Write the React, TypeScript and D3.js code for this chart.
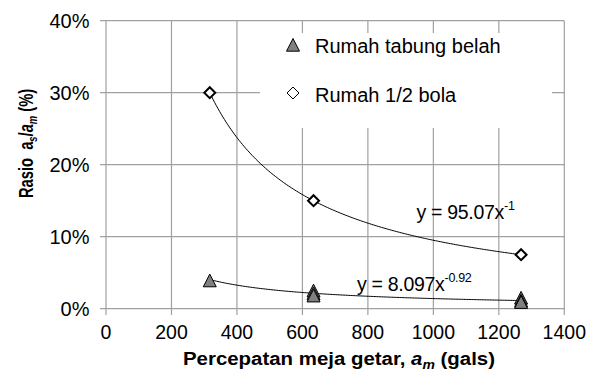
import * as d3 from "d3";

const xTicks = [0, 200, 400, 600, 800, 1000, 1200, 1400];
const yTicks = [0, 0.1, 0.2, 0.3, 0.4];

// Rumah tabung belah (triangles)
const tabungX = [317, 634, 634, 634, 1268, 1268, 1268];
const tabungY = [0.039, 0.025, 0.021, 0.018, 0.015, 0.011, 0.009];

// Rumah 1/2 bola (diamonds)
const bolaX = [317, 634, 1268];
const bolaY = [0.3, 0.15, 0.075];

// power trendlines y = a x^b
const tabungFit = { a: 8.097, b: -0.92, label: "y = 8.097x", exp: "-0.92" };
const bolaFit = { a: 95.07, b: -1, label: "y = 95.07x", exp: "-1" };

const W = 601;
const H = 378;
const font = "'Liberation Sans', Arial, sans-serif";

export default function App() {
  const x = d3.scaleLinear().domain([0, 1400]).range([106, 564.3]);
  const y = d3.scaleLinear().domain([0, 0.4]).range([308.7, 20.7]);

  const fitPath = (a: number, b: number) => {
    const xs = d3.range(317, 1268.01, 5);
    return (
      d3
        .line<number>()
        .x((d) => x(d))
        .y((d) => y(a * Math.pow(d, b)))(xs) ?? ""
    );
  };

  const tri = (cx: number, cy: number, s = 6.5) =>
    `M${cx},${cy - s}L${cx + s},${cy + s * 0.95}L${cx - s},${cy + s * 0.95}Z`;
  const dia = (cx: number, cy: number, s = 6) =>
    `M${cx},${cy - s}L${cx + s},${cy}L${cx},${cy + s}L${cx - s},${cy}Z`;

  const grid = "#a0a0a0";

  return (
    <svg
      width={W}
      height={H}
      style={{ position: "absolute", left: 0, top: 0, background: "#fff" }}
      fontFamily={font}
    >
      {/* grid */}
      {yTicks.map((t) => (
        <line key={"gy" + t} x1={100} x2={564.3} y1={y(t)} y2={y(t)} stroke={grid} strokeWidth={1.2} />
      ))}
      {xTicks.map((t) => (
        <line key={"gx" + t} x1={x(t)} x2={x(t)} y1={20.7} y2={315} stroke={grid} strokeWidth={1.2} />
      ))}

      {/* legend box */}
      <rect x={260} y={33} width={292} height={95} fill="#fff" />
      <path d={tri(293, 45)} fill="#808080" stroke="#000" strokeWidth={1} />
      <text x={315} y={53} fontSize={20} fill="#000">Rumah tabung belah</text>
      <path d={dia(293, 93)} fill="#fff" stroke="#000" strokeWidth={1} />
      <text x={315} y={101.5} fontSize={20} fill="#000">Rumah 1/2 bola</text>

      {/* trendlines */}
      <path d={fitPath(bolaFit.a, bolaFit.b)} fill="none" stroke="#000" strokeWidth={1} />
      <path d={fitPath(tabungFit.a, tabungFit.b)} fill="none" stroke="#000" strokeWidth={1} />

      {/* points */}
      {tabungX.map((d, i) => (
        <path key={"t" + i} d={tri(x(d), y(tabungY[i]))} fill="#808080" stroke="#000" strokeWidth={1} />
      ))}
      {bolaX.map((d, i) => (
        <path key={"b" + i} d={dia(x(d), y(bolaY[i]), 5.5)} fill="#fff" stroke="#000" strokeWidth={2} />
      ))}

      {/* equations */}
      <text x={416.5} y={218.5} fontSize={19.5} letterSpacing={-0.3} fill="#000">
        {bolaFit.label}
        <tspan dy={-8.5} fontSize={12.5}>{bolaFit.exp}</tspan>
      </text>
      <text x={357} y={290.5} fontSize={19.5} letterSpacing={-0.3} fill="#000">
        {tabungFit.label}
        <tspan dy={-8.5} fontSize={12.5}>{tabungFit.exp}</tspan>
      </text>

      {/* tick labels */}
      {yTicks.map((t) => (
        <text key={"ly" + t} x={89.5} y={y(t)} dy="0.35em" textAnchor="end" fontSize={20} fill="#000">
          {Math.round(t * 100) + "%"}
        </text>
      ))}
      {xTicks.map((t) => (
        <text key={"lx" + t} x={x(t)} y={339} textAnchor="middle" fontSize={19.5} fill="#000">
          {t}
        </text>
      ))}

      {/* axis titles */}
      <text
        x={183}
        y={364.5}
        fontSize={17.5}
        fontWeight="bold"
        fill="#000"
        textLength={312}
        lengthAdjust="spacingAndGlyphs"
        xmlSpace="preserve"
      >
        {"Percepatan meja getar, "}
        <tspan fontStyle="italic">a</tspan>
        <tspan fontStyle="italic" fontSize={12} dy={4}>m</tspan>
        <tspan dy={-4}>{" (gals)"}</tspan>
      </text>
      <text
        transform={`translate(33,198) rotate(-90) scale(0.7,1)`}
        fontSize={21}
        fontWeight="bold"
        fill="#000"
        xmlSpace="preserve"
      >
        {"Rasio  a"}
        <tspan fontStyle="italic" fontSize={13.5} dy={4}>s</tspan>
        <tspan dy={-4}>/</tspan>
        <tspan fontStyle="italic">a</tspan>
        <tspan fontStyle="italic" fontSize={13.5} dy={4}>m</tspan>
        <tspan dy={-4}>{" (%)"}</tspan>
      </text>
    </svg>
  );
}
